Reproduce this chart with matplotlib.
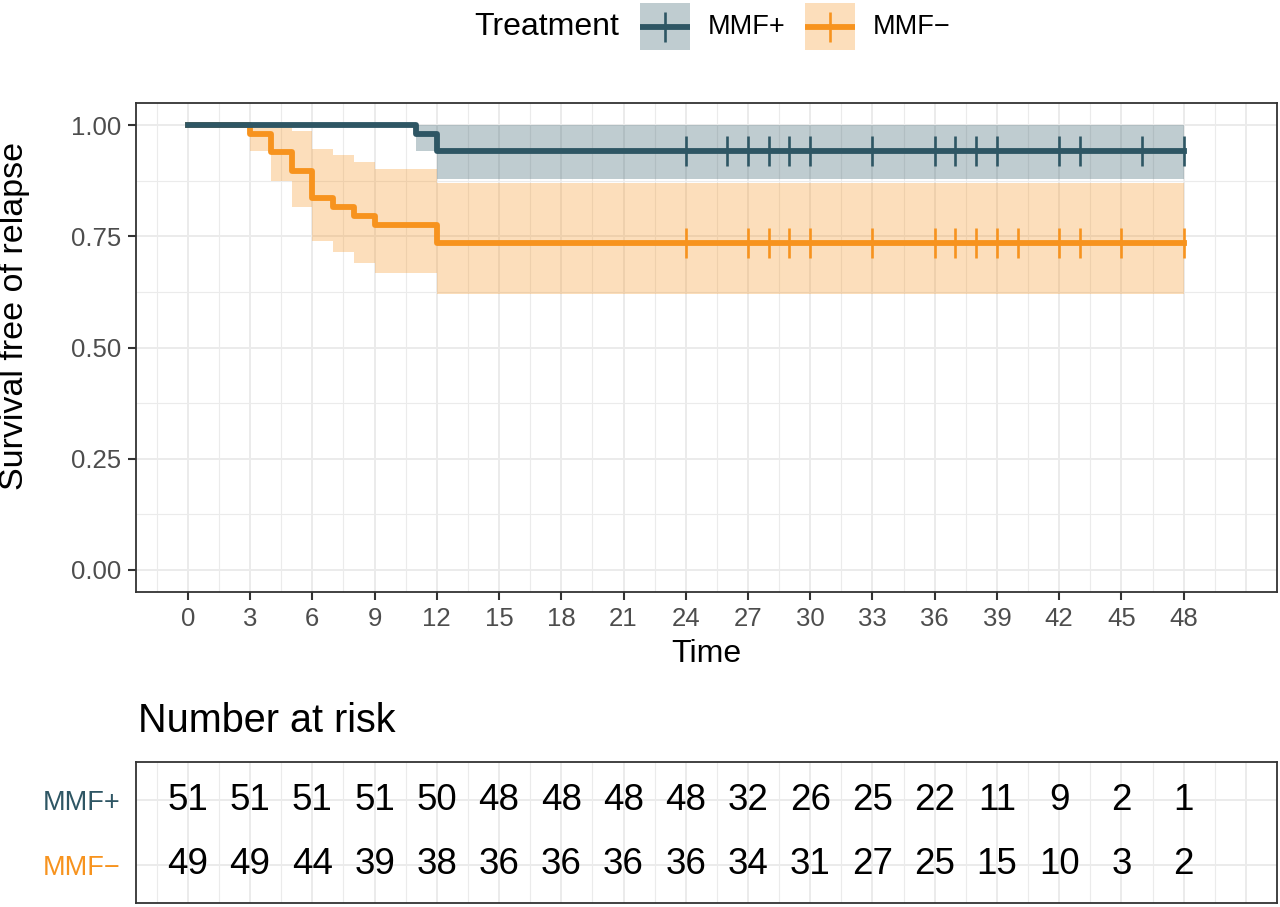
import numpy as np
import matplotlib
matplotlib.use("Agg")
import matplotlib.pyplot as plt

plt.rcParams['font.family'] = ['Liberation Sans', 'DejaVu Sans']

# Kaplan-Meier estimates
plus_time = [0, 11, 12, 48]
plus_surv = [1.0, 0.980, 0.941, 0.941]
plus_lower = [1.0, 0.943, 0.879, 0.879]
plus_upper = [1.0, 1.0, 1.0, 1.0]
plus_censor = [24, 26, 27, 28, 29, 30, 33, 36, 37, 38, 39, 42, 43, 46, 48]

minus_time = [0, 3, 4, 5, 6, 7, 8, 9, 12, 48]
minus_surv = [1.0, 0.980, 0.939, 0.898, 0.837, 0.816, 0.796, 0.776, 0.735, 0.735]
minus_lower = [1.0, 0.941, 0.874, 0.817, 0.739, 0.715, 0.691, 0.667, 0.621, 0.621]
minus_upper = [1.0, 1.0, 1.0, 0.987, 0.947, 0.932, 0.917, 0.902, 0.869, 0.869]
minus_censor = [24, 27, 28, 29, 30, 33, 36, 37, 38, 39, 40, 42, 43, 45, 48]

risk_times = list(range(0, 49, 3))
risk_plus = [51, 51, 51, 51, 50, 48, 48, 48, 48, 32, 26, 25, 22, 11, 9, 2, 1]
risk_minus = [49, 49, 44, 39, 38, 36, 36, 36, 36, 34, 31, 27, 25, 15, 10, 3, 2]

groups = ['MMF+', 'MMF\u2212']
col_plus = '#2E5664'
col_minus = '#F7931E'

W, H = 1280, 907
fig = plt.figure(figsize=(W / 100, H / 100), dpi=100)

def fx(px):
    return px / W

def fy(py):
    return 1 - py / H

grid_col = '#EBEBEB'
x_major = np.arange(0, 49, 3)
x_minor = np.arange(-1.5, 52.6, 1.5)
lw_line = 4.2

# main survival panel
ax = fig.add_axes([fx(136), fy(592), fx(1277) - fx(136), fy(103) - fy(592)])
ax.set_xlim(-2.5, 52.5)
ax.set_ylim(-0.05, 1.05)
for xv in x_minor:
    lw = 1.4 if (xv % 3 == 0) else 0.8
    ax.axvline(xv, color=grid_col, lw=lw, zorder=0)
for yv in np.arange(-0.125, 1.1, 0.125):
    lw = 1.4 if (abs(yv * 4 - round(yv * 4)) < 1e-9) else 0.8
    ax.axhline(yv, color=grid_col, lw=lw, zorder=0)

ax.fill_between(plus_time, plus_lower, plus_upper, step='post',
                color=col_plus, alpha=0.3, lw=0, zorder=1)
ax.fill_between(minus_time, minus_lower, minus_upper, step='post',
                color=col_minus, alpha=0.3, lw=0, zorder=1)
ax.plot(minus_time, minus_surv, drawstyle='steps-post', color=col_minus, lw=lw_line, zorder=3)
ax.plot(plus_time, plus_surv, drawstyle='steps-post', color=col_plus, lw=lw_line, zorder=4)

ax.plot(plus_censor, [plus_surv[-1]] * len(plus_censor), ls='none', marker='|',
        ms=21, mew=1.9, color=col_plus, zorder=5)
ax.plot(minus_censor, [minus_surv[-1]] * len(minus_censor), ls='none', marker='|',
        ms=21, mew=1.9, color=col_minus, zorder=5)

ax.set_xticks(x_major)
ax.set_xticklabels([str(v) for v in x_major])
ax.set_yticks([0, 0.25, 0.5, 0.75, 1.0])
ax.set_yticklabels(['0.00', '0.25', '0.50', '0.75', '1.00'])
ax.tick_params(axis='both', length=5.5, width=1.5, color='#333333',
               labelcolor='#4D4D4D', labelsize=18.5, pad=5)
for sp in ax.spines.values():
    sp.set_color('#333333')
    sp.set_linewidth(1.3)
ax.set_facecolor('white')

fig.text(fx(706), fy(654), 'Time', ha='center', va='center', fontsize=23)
fig.text(fx(15), fy(316), 'Survival free of relapse', ha='center', va='center',
         rotation=90, fontsize=24.5)

# legend on top
fig.text(fx(619), fy(27), 'Treatment', ha='right', va='center', fontsize=23)
for x0, lab, col in [(640, groups[0], col_plus), (805, groups[1], col_minus)]:
    kax = fig.add_axes([fx(x0), fy(50), fx(50), fy(3) - fy(50)])
    kax.set_xlim(0, 1)
    kax.set_ylim(0, 1)
    kax.add_patch(plt.Rectangle((0, 0), 1, 1, color=col, alpha=0.3, lw=0))
    kax.plot([0.0, 1.0], [0.5, 0.5], color=col, lw=lw_line)
    kax.plot([0.5], [0.5], marker='|', ms=21, mew=1.9, color=col)
    kax.axis('off')
    fig.text(fx(x0 + 68), fy(27), lab, ha='left', va='center', fontsize=19.5)

# number at risk table
fig.text(fx(138), fy(721), 'Number at risk', ha='left', va='center', fontsize=28.5)
rax = fig.add_axes([fx(136), fy(903), fx(1277) - fx(136), fy(762) - fy(903)])
rax.set_xlim(-2.5, 52.5)
rax.set_ylim(0.4, 2.6)
for xv in x_minor:
    lw = 1.4 if (xv % 3 == 0) else 0.8
    rax.axvline(xv, color=grid_col, lw=lw, zorder=0)
for yv in [1, 2]:
    rax.axhline(yv, color=grid_col, lw=1.4, zorder=0)
for t, n1, n2 in zip(risk_times, risk_plus, risk_minus):
    rax.text(t, 2, str(n1), ha='center', va='center', fontsize=26.5, zorder=2)
    rax.text(t, 1, str(n2), ha='center', va='center', fontsize=26.5, zorder=2)
rax.set_xticks([])
rax.set_yticks([2, 1])
rax.set_yticklabels(groups, fontsize=19.5)
rax.get_yticklabels()[0].set_color(col_plus)
rax.get_yticklabels()[1].set_color(col_minus)
rax.tick_params(axis='y', length=0, pad=11)
for sp in rax.spines.values():
    sp.set_color('#333333')
    sp.set_linewidth(1.3)

fig.savefig('out.png', dpi=100)
